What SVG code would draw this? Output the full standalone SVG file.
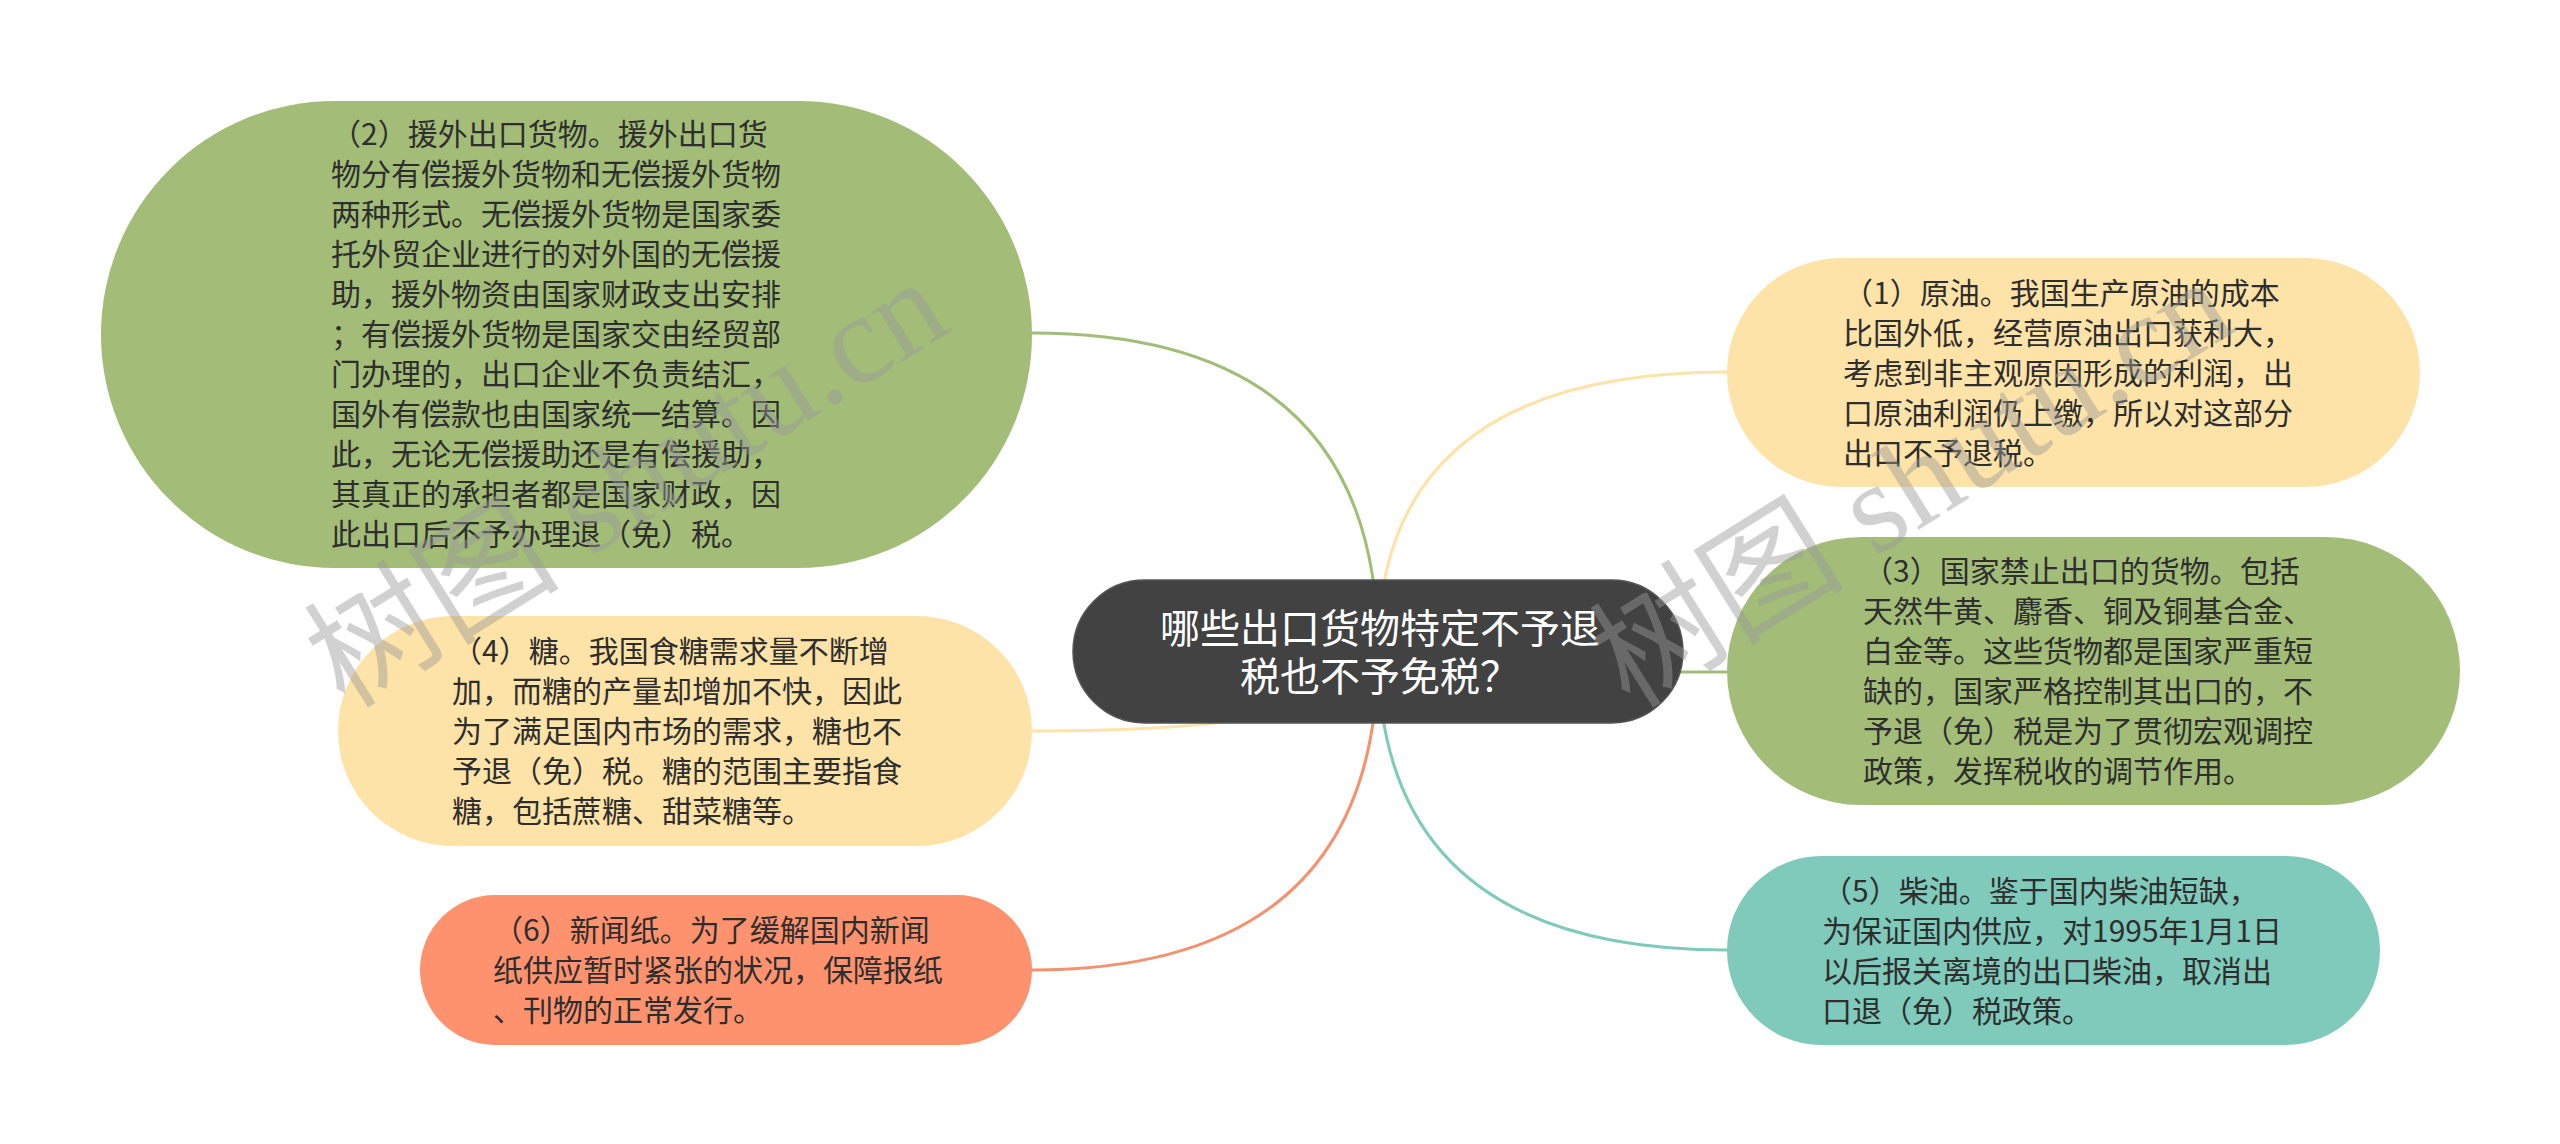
<svg xmlns="http://www.w3.org/2000/svg" width="2560" height="1144" viewBox="0 0 2560 1144">
<style>
.t{font-family:"Noto Sans CJK SC","Noto Sans",sans-serif;font-size:30px;fill:#2e2e2e}
.c{font-family:"Noto Sans CJK SC","Noto Sans",sans-serif;font-size:40px;fill:#ffffff;text-anchor:middle}
.ln{fill:none;stroke-width:3}
.wm{font-family:"Liberation Serif","Noto Sans CJK SC",serif;font-size:128px;fill:#9a9a9a;fill-opacity:0.45}
</style>
<rect width="2560" height="1144" fill="#ffffff"/>
<g id="connectors">
<path class="ln" stroke="#a3bd79" d="M1032,333 Q1378,333 1378,651"/>
<path class="ln" stroke="#fde3a8" d="M1727,372 Q1378,372 1378,651"/>
<path class="ln" stroke="#a3bd79" d="M1727,672 Q1378,672 1378,651"/>
<path class="ln" stroke="#fde3a8" d="M1032,731 Q1378,731 1378,651"/>
<path class="ln" stroke="#7fcabb" d="M1727,950 Q1378,950 1378,651"/>
<path class="ln" stroke="#f5916f" d="M1032,970 Q1378,970 1378,651"/>
</g>
<g id="center">
<rect x="1073" y="580" width="610" height="143" rx="71.5" fill="#424242" stroke="#555" stroke-width="1.5"/>
<text class="c"><tspan x="1380" y="643">哪些出口货物特定不予退</tspan><tspan x="1380" y="691">税也不予免税？</tspan></text>
</g>
<g id="node2">
<rect x="101" y="101" width="931" height="467" rx="233.5" fill="#a3bd79"/>
<text class="t">
<tspan x="331" y="145">（2）援外出口货物。援外出口货</tspan>
<tspan x="331" y="185">物分有偿援外货物和无偿援外货物</tspan>
<tspan x="331" y="225">两种形式。无偿援外货物是国家委</tspan>
<tspan x="331" y="265">托外贸企业进行的对外国的无偿援</tspan>
<tspan x="331" y="305">助，援外物资由国家财政支出安排</tspan>
<tspan x="331" y="345">；有偿援外货物是国家交由经贸部</tspan>
<tspan x="331" y="385">门办理的，出口企业不负责结汇，</tspan>
<tspan x="331" y="425">国外有偿款也由国家统一结算。因</tspan>
<tspan x="331" y="465">此，无论无偿援助还是有偿援助，</tspan>
<tspan x="331" y="505">其真正的承担者都是国家财政，因</tspan>
<tspan x="331" y="545">此出口后不予办理退（免）税。</tspan>
</text>
</g>
<g id="node1">
<rect x="1727" y="258" width="693" height="229" rx="114.5" fill="#fee3a8"/>
<text class="t">
<tspan x="1843" y="303.5">（1）原油。我国生产原油的成本</tspan>
<tspan x="1843" y="343.5">比国外低，经营原油出口获利大，</tspan>
<tspan x="1843" y="383.5">考虑到非主观原因形成的利润，出</tspan>
<tspan x="1843" y="423.5">口原油利润仍上缴，所以对这部分</tspan>
<tspan x="1843" y="463.5">出口不予退税。</tspan>
</text>
</g>
<g id="node3">
<rect x="1727" y="537" width="733" height="268" rx="134" fill="#a3bd79"/>
<text class="t">
<tspan x="1863" y="582">（3）国家禁止出口的货物。包括</tspan>
<tspan x="1863" y="622">天然牛黄、麝香、铜及铜基合金、</tspan>
<tspan x="1863" y="662">白金等。这些货物都是国家严重短</tspan>
<tspan x="1863" y="702">缺的，国家严格控制其出口的，不</tspan>
<tspan x="1863" y="742">予退（免）税是为了贯彻宏观调控</tspan>
<tspan x="1863" y="782">政策，发挥税收的调节作用。</tspan>
</text>
</g>
<g id="node4">
<rect x="338" y="616" width="694" height="230" rx="115" fill="#fee3a8"/>
<text class="t">
<tspan x="452" y="662">（4）糖。我国食糖需求量不断增</tspan>
<tspan x="452" y="702">加，而糖的产量却增加不快，因此</tspan>
<tspan x="452" y="742">为了满足国内市场的需求，糖也不</tspan>
<tspan x="452" y="782">予退（免）税。糖的范围主要指食</tspan>
<tspan x="452" y="822">糖，包括蔗糖、甜菜糖等。</tspan>
</text>
</g>
<g id="node5">
<rect x="1727" y="856" width="653" height="189" rx="94.5" fill="#7fcabb"/>
<text class="t">
<tspan x="1822" y="901.5">（5）柴油。鉴于国内柴油短缺，</tspan>
<tspan x="1822" y="941.5">为保证国内供应，对1995年1月1日</tspan>
<tspan x="1822" y="981.5">以后报关离境的出口柴油，取消出</tspan>
<tspan x="1822" y="1021.5">口退（免）税政策。</tspan>
</text>
</g>
<g id="node6">
<rect x="420" y="895" width="612" height="150" rx="75" fill="#fe926f"/>
<text class="t">
<tspan x="493" y="941">（6）新闻纸。为了缓解国内新闻</tspan>
<tspan x="493" y="981">纸供应暂时紧张的状况，保障报纸</tspan>
<tspan x="493" y="1021">、刊物的正常发行。</tspan>
</text>
</g>
<g id="watermark">
<text class="wm" transform="translate(345,710) rotate(-32)">树图 shutu.cn</text>
<text class="wm" transform="translate(1630,710) rotate(-32)">树图 shutu.cn</text>
</g>
</svg>
